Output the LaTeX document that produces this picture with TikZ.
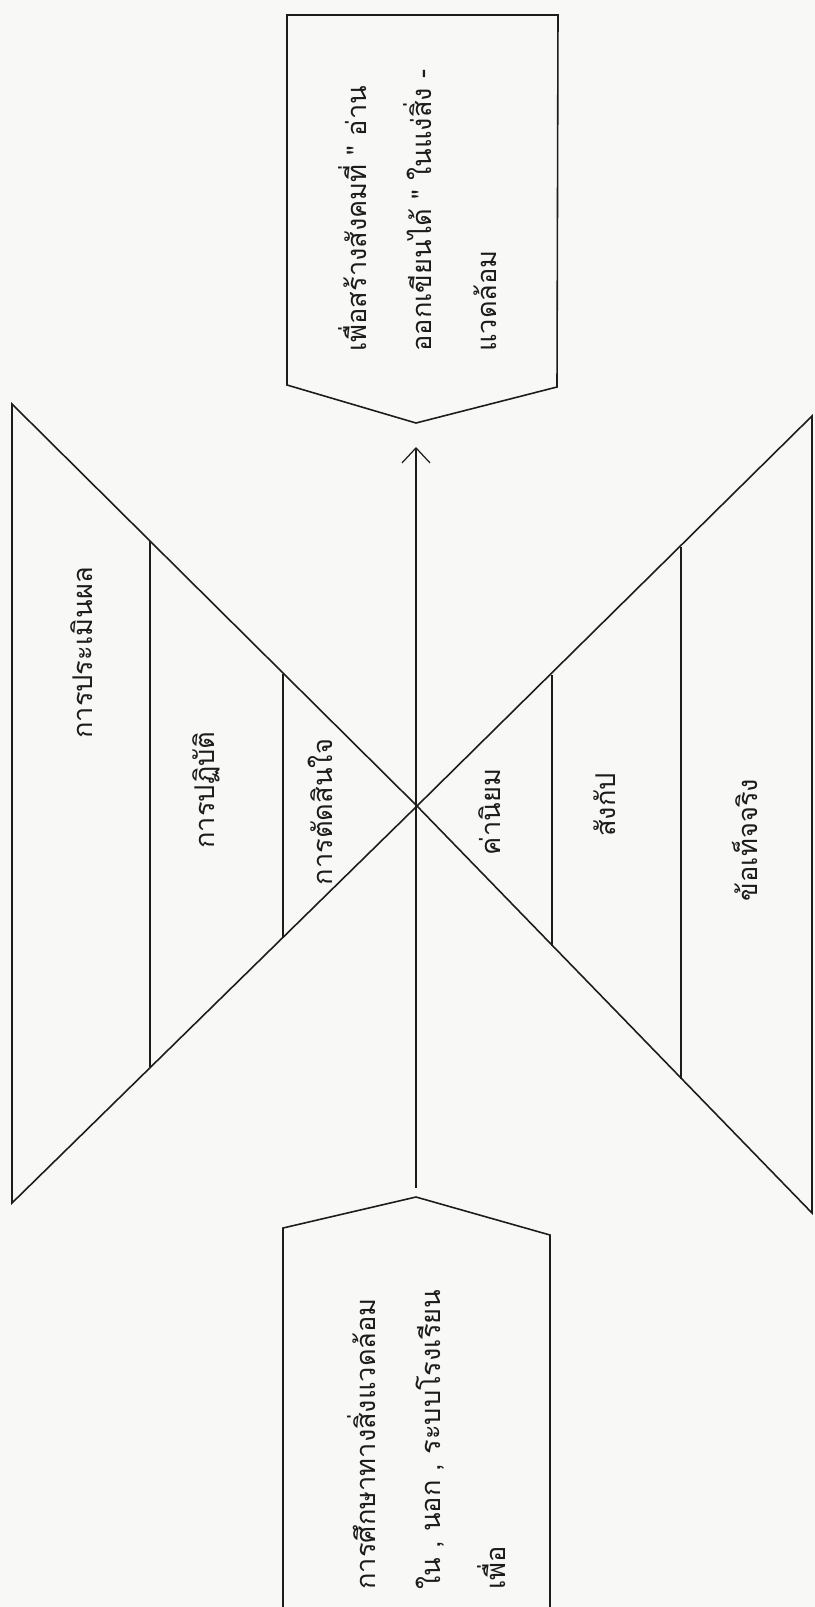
\documentclass[tikz,border=0pt]{standalone}
\usepackage{fontspec}
\newfontfamily\thaifont[Script=Thai]{Loma}
\usetikzlibrary{arrows.meta}
\definecolor{cInk}{HTML}{1C1C1C}
\definecolor{cPaper}{HTML}{F8F8F6}

\begin{document}
\begin{tikzpicture}[x=0.02cm,y=-0.02cm,
    frame/.style={draw=cInk,line width=0.9pt,line join=miter},
    lbl/.style={rotate=90,inner sep=0pt,text=cInk,
                font=\thaifont\fontsize{15.5}{37}\selectfont},
    blk/.style={lbl,align=left,anchor=west},
    arr/.style={-{Straight Barb[length=3mm,width=5.6mm]},cInk,line width=0.7pt}]
  \fill[cPaper] (0,0) rectangle (815,1607);
  \useasboundingbox (0,0) rectangle (815,1607);
  % hourglass
  \coordinate (mid) at (417,806);
  \draw[frame] (12,404) -- (12,1203) -- (mid) -- cycle;
  \draw[frame] (812,416) -- (812,1213) -- (mid) -- cycle;
  \draw[frame] (150,541) -- (150,1067);
  \draw[frame] (283,674) -- (283,938);
  \draw[frame] (552,675) -- (552,946);
  \draw[frame] (681,547) -- (681,1079);
  % left side labels
  \node[lbl] (eval) at (82,653) {การประเมินผล};
  \node[lbl] (act) at (206,790) {การปฏิบัติ};
  \node[lbl] (decide) at (320,812) {การตัดสินใจ};
  % right side labels
  \node[lbl] (value) at (490,812) {ค่านิยม};
  \node[lbl] (concept) at (605,805) {สังกัป};
  \node[lbl] (fact) at (745,840) {ข้อเท็จจริง};
  % goal box
  \coordinate (goaltip) at (416,423);
  \draw[frame] (287,15) -- (558,15) -- (557,387) -- (goaltip) -- (287,385) -- cycle;
  \node[blk] (goal) at (418,352) {เพื่อสร้างสังคมที่ " อ่าน\\ออกเขียนได้ " ในแง่สิ่ง -\\แวดล้อม};
  % source box
  \coordinate (srctip) at (416,1197);
  \draw[frame] (283,1607) -- (283,1228) -- (srctip) -- (550,1235) -- (550,1607);
  \node[blk] (src) at (427,1590) {การศึกษาทางสิ่งแวดล้อม\\ใน , นอก , ระบบโรงเรียน\\เพื่อ};
  \draw[arr,shorten <=0.18cm,shorten >=0.48cm] (srctip) -- (goaltip);
\end{tikzpicture}
\end{document}
